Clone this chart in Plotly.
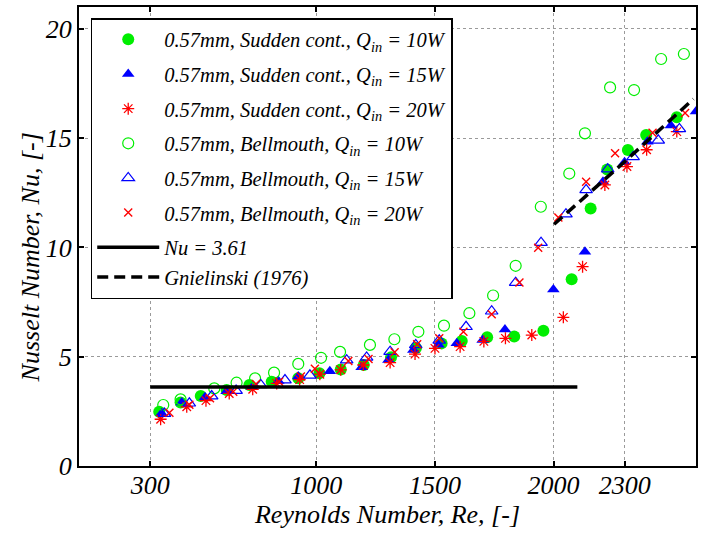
import plotly.graph_objects as go

# ---- data ----
re_sc10 = [338, 428, 513, 622, 718, 812, 924, 1013, 1103, 1200, 1315, 1420, 1528, 1613, 1720, 1834, 1957, 2076, 2156, 2226, 2313, 2390, 2519]
nu_sc10 = [2.48, 2.90, 3.20, 3.48, 3.71, 3.86, 4.01, 4.24, 4.42, 4.62, 4.97, 5.40, 5.61, 5.72, 5.89, 5.93, 6.19, 8.54, 11.78, 13.57, 14.46, 15.14, 15.96]

re_sc15 = [348, 433, 531, 622, 730, 840, 924, 1057, 1191, 1304, 1409, 1515, 1592, 1701, 1795, 1999, 2132, 2208, 2299, 2395, 2494, 2600]
nu_sc15 = [2.41, 2.90, 3.14, 3.42, 3.60, 3.89, 4.10, 4.33, 4.52, 4.85, 5.31, 5.55, 5.62, 5.76, 6.24, 8.08, 9.80, 13.01, 13.90, 14.84, 15.58, 16.22]

re_sc20 = [344, 454, 535, 633, 732, 833, 930, 1015, 1103, 1198, 1311, 1416, 1500, 1606, 1706, 1797, 1908, 2041, 2122, 2216, 2309, 2392, 2519]
nu_sc20 = [2.14, 2.71, 2.99, 3.32, 3.51, 3.78, 3.95, 4.20, 4.40, 4.62, 4.73, 5.12, 5.38, 5.46, 5.70, 5.84, 5.99, 6.80, 9.12, 12.86, 13.70, 14.47, 15.30]

re_bm10 = [355, 428, 570, 664, 742, 822, 924, 1020, 1100, 1226, 1329, 1430, 1538, 1645, 1745, 1840, 1946, 2066, 2132, 2238, 2339, 2453, 2549]
nu_bm10 = [2.79, 3.05, 3.55, 3.81, 4.01, 4.27, 4.67, 4.95, 5.22, 5.54, 5.80, 6.14, 6.42, 6.99, 7.80, 9.16, 11.86, 13.38, 15.22, 17.32, 17.20, 18.62, 18.85]

re_bm15 = [360, 465, 559, 662, 766, 868, 973, 1128, 1212, 1311, 1419, 1518, 1631, 1739, 1840, 1947, 2052, 2137, 2228, 2335, 2441, 2530]
nu_bm15 = [2.40, 2.87, 3.20, 3.45, 3.71, 3.93, 4.15, 4.84, 4.97, 5.23, 5.54, 5.75, 6.37, 7.08, 8.39, 10.22, 11.52, 12.63, 13.58, 14.14, 14.90, 15.42]

re_bm20 = [381, 465, 552, 650, 746, 843, 935, 994, 1135, 1220, 1330, 1425, 1518, 1620, 1739, 1856, 1935, 2020, 2137, 2259, 2417, 2554]
nu_bm20 = [2.44, 2.80, 3.10, 3.40, 3.75, 3.85, 4.10, 4.45, 4.80, 4.90, 5.20, 5.57, 5.84, 6.14, 6.94, 8.40, 9.99, 11.37, 13.01, 14.31, 15.25, 16.15]

re_lam = [300, 2100]
nu_lam = [3.61, 3.61]

re_gn = [2002, 2300, 2589]
nu_gn = [11.06, 13.93, 16.79]

x_ticks = [300, 1000, 1500, 2000, 2300]
y_ticks = [0, 5, 10, 15, 20]

GREEN = "#00ee00"
BLUE = "#0000ff"
RED = "#ff0000"
FONT = "Liberation Serif, Times New Roman, serif"

fig = go.Figure()

def add_markers(x, y, name, symbol, color, size, group, filled=True, lw=1.2):
    marker = dict(symbol=symbol, size=size)
    if filled:
        marker.update(color=color, line=dict(width=0))
    else:
        marker.update(color=color, line=dict(color=color, width=lw))
    fig.add_trace(go.Scatter(x=x, y=y, mode="markers", name=name,
                             marker=marker, legendgroup=group))

add_markers(re_sc10, nu_sc10, "0.57mm, Sudden cont., Q<sub>in</sub> = 10W", "circle", GREEN, 12, "g1")
add_markers(re_sc15, nu_sc15, "0.57mm, Sudden cont., Q<sub>in</sub> = 15W", "triangle-up", BLUE, 11, "g2")
add_markers(re_sc20, nu_sc20, "0.57mm, Sudden cont., Q<sub>in</sub> = 20W", "asterisk-open", RED, 10, "g3", filled=False, lw=1.3)
add_markers(re_bm10, nu_bm10, "0.57mm, Bellmouth, Q<sub>in</sub> = 10W", "circle-open", GREEN, 11, "g4", filled=False, lw=1.2)
add_markers(re_bm15, nu_bm15, "0.57mm, Bellmouth, Q<sub>in</sub> = 15W", "triangle-up-open", BLUE, 11, "g5", filled=False, lw=1.2)
add_markers(re_bm20, nu_bm20, "0.57mm, Bellmouth, Q<sub>in</sub> = 20W", "x-thin-open", RED, 8, "g6", filled=False, lw=1.4)

fig.add_trace(go.Scatter(x=re_lam, y=nu_lam, mode="lines", name="Nu = 3.61",
                         line=dict(color="black", width=3.5), legendgroup="lines"))
fig.add_trace(go.Scatter(x=re_gn, y=nu_gn, mode="lines", name="Gnielinski (1976)",
                         line=dict(color="black", width=3.5, dash="11px,6px"), legendgroup="lines"))

axis_common = dict(
    showline=True, linecolor="black", linewidth=2, mirror="ticks",
    ticks="inside", ticklen=5, tickcolor="black", tickwidth=1.5,
    showgrid=True, gridcolor="#9a9a9a", gridwidth=1, griddash="dot",
    zeroline=False,
    tickfont=dict(family=FONT, size=26, color="black", style="italic"),
)

fig.update_xaxes(range=[0, 2600], tickmode="array", tickvals=x_ticks,
                 ticktext=[str(v) for v in x_ticks], ticklabelstandoff=-5,
                 title=dict(text="Reynolds Number, Re, [-]", standoff=2,
                            font=dict(family=FONT, size=26, color="black", style="italic")),
                 **axis_common)
fig.update_yaxes(range=[0, 21], tickmode="array", tickvals=y_ticks,
                 ticktext=[str(v) for v in y_ticks],
                 **axis_common)

fig.add_annotation(text="Nusselt Number, Nu, [-]", xref="paper", yref="paper",
                   x=-0.079, y=0.455, xanchor="center", yanchor="middle",
                   textangle=-90, showarrow=False,
                   font=dict(family=FONT, size=26, color="black", style="italic"))

fig.update_layout(
    width=707, height=533,
    margin=dict(l=79, r=11, t=7, b=67, autoexpand=False),
    paper_bgcolor="white", plot_bgcolor="white",
    font=dict(family=FONT, color="black", style="italic"),
    showlegend=True,
    legend=dict(x=0.019, y=0.976, xanchor="left", yanchor="top",
                bgcolor="white", bordercolor="black", borderwidth=1.5,
                font=dict(family=FONT, size=20.5, color="black", style="italic"),
                traceorder="grouped", tracegroupgap=5, itemwidth=62,
                itemsizing="trace"),
)

fig.write_html("out.html")
